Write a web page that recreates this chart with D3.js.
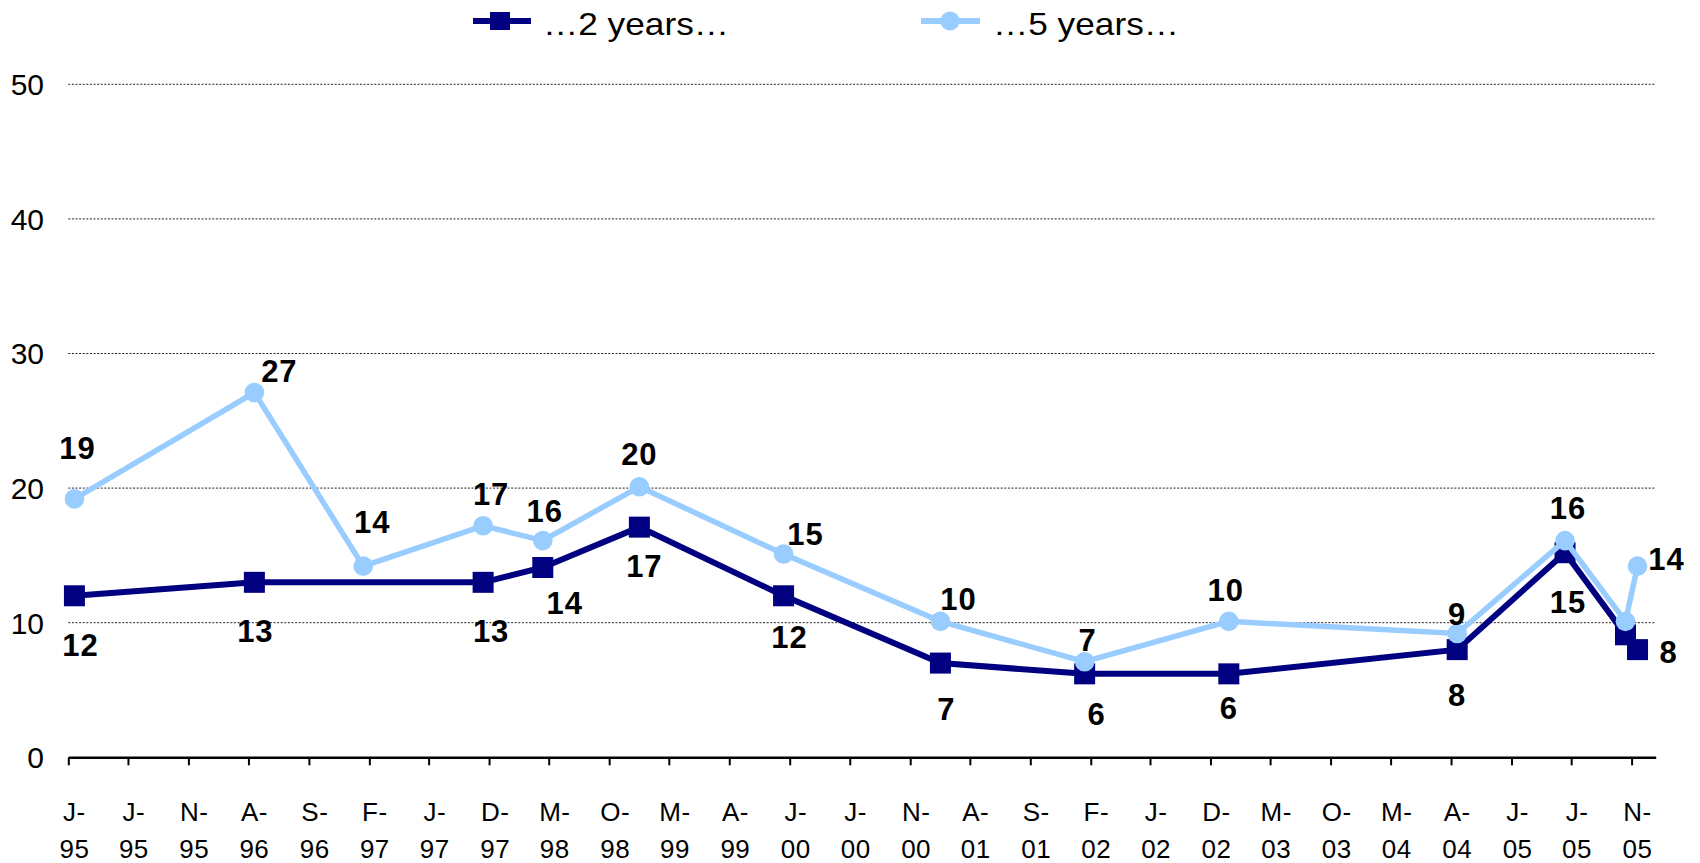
<!DOCTYPE html>
<html>
<head>
<meta charset="utf-8">
<script src="https://cdn.jsdelivr.net/npm/d3@7"></script>
<style>
  html, body { margin: 0; padding: 0; background: #fff; }
  svg { display: block; font-family: "Liberation Sans", Arial, Helvetica, sans-serif; }
</style>
</head>
<body>
<svg id="chart" width="1700" height="863"></svg>
<script>
// ---------------- data ----------------
const seriesNames = ["\u20262 years\u2026", "\u20265 years\u2026"];

const darkDates  = ["1995-01","1996-04","1997-11","1998-04","1998-12","1999-12","2001-01","2002-01","2003-01","2004-08","2005-05","2005-10","2005-11"];
const darkValues = [12.0, 13.0, 13.0, 14.1, 17.1, 12.0, 7.0, 6.2, 6.2, 8.0, 15.2, 9.1, 8.0];

const lightDates  = ["1995-01","1996-04","1997-01","1997-11","1998-04","1998-12","1999-12","2001-01","2002-01","2003-01","2004-08","2005-05","2005-10","2005-11"];
const lightValues = [19.2, 27.1, 14.2, 17.2, 16.1, 20.1, 15.1, 10.1, 7.1, 10.1, 9.2, 16.1, 10.1, 14.2];

const tickDates = ["1995-01","1995-06","1995-11","1996-04","1996-09","1997-02","1997-07","1997-12","1998-05","1998-10","1999-03","1999-08","2000-01","2000-06","2000-11","2001-04","2001-09","2002-02","2002-07","2002-12","2003-05","2003-10","2004-03","2004-08","2005-01","2005-06","2005-11"];
const tickMonths = ["J-","J-","N-","A-","S-","F-","J-","D-","M-","O-","M-","A-","J-","J-","N-","A-","S-","F-","J-","D-","M-","O-","M-","A-","J-","J-","N-"];
const tickYears  = ["95","95","95","96","96","97","97","97","98","98","99","99","00","00","00","01","01","02","02","02","03","03","04","04","05","05","05"];

const yTicks = [0, 10, 20, 30, 40, 50];

// label nudges (layout only, px relative to the point; null = no label)
const darkLabelNudge  = [[6,49],[1,49],[8,49],[22,35],[5,39],[6,41],[6,46],[12,40],[0,34],[0,45],[3,49],null,[31,2]];
const lightLabelNudge = [[3,-51],[25,-22],[9,-44],[8,-32],[2,-30],[0,-33],[22,-20],[18,-23],[3,-22],[-3,-32],[0,-20],[3,-33],null,[29,-7]];

// ---------------- layout ----------------
const DARK = "#000080", LIGHT = "#99CCFF";
const parse = d3.utcParse("%Y-%m");
const svg = d3.select("#chart");

const x = d3.scaleUtc()
  .domain([parse("1995-01"), parse("2006-01")])
  .range([68.3, 1655.7]);
const xMid = d => (x(d) + x(d3.utcMonth.offset(d, 1))) / 2;

const y = d3.scaleLinear().domain([0, 50]).range([757.3, 84.3]);

// gridlines
svg.append("g").selectAll("line")
  .data(yTicks.filter(v => v > 0))
  .join("line")
  .attr("x1", x.range()[0]).attr("x2", x.range()[1])
  .attr("y1", d => y(d)).attr("y2", d => y(d))
  .attr("stroke", "#222").attr("stroke-width", 1)
  .attr("stroke-dasharray", "2,1.6");

// y labels
svg.append("g").selectAll("text")
  .data(yTicks)
  .join("text")
  .attr("x", 44).attr("y", d => y(d))
  .attr("dy", "0.36em")
  .attr("text-anchor", "end")
  .attr("font-size", 30)
  .attr("fill", "#000")
  .text(d => d);

// x axis
const tickParsed = tickDates.map(parse);
const xAxis = d3.axisBottom(x)
  .tickValues(tickParsed)
  .tickSize(8)
  .tickSizeOuter(0)
  .tickFormat("");
const gx = svg.append("g")
  .attr("transform", `translate(0,${y(0)})`)
  .call(xAxis);
gx.select(".domain").attr("stroke", "#000").attr("stroke-width", 2.5);
gx.selectAll(".tick line").attr("stroke", "#000").attr("stroke-width", 2);

// x labels (centered on the month)
const xl = svg.append("g").selectAll("text")
  .data(tickParsed)
  .join("text")
  .attr("text-anchor", "middle")
  .attr("font-size", 26)
  .attr("fill", "#000")
  .attr("letter-spacing", 0.5);
xl.append("tspan").attr("x", d => xMid(d)).attr("y", 821).text((d, i) => tickMonths[i]);
xl.append("tspan").attr("x", d => xMid(d)).attr("y", 858).text((d, i) => tickYears[i]);

// series
const dark = darkDates.map((d, i) => ({ date: parse(d), value: darkValues[i], nudge: darkLabelNudge[i] }));
const light = lightDates.map((d, i) => ({ date: parse(d), value: lightValues[i], nudge: lightLabelNudge[i] }));

const line = d3.line().x(d => xMid(d.date)).y(d => y(d.value));
const SQ = 21, R = 9.8;

// dark series
svg.append("path").datum(dark)
  .attr("d", line).attr("fill", "none")
  .attr("stroke", DARK).attr("stroke-width", 6).attr("stroke-linejoin", "miter");
svg.append("g").selectAll("rect")
  .data(dark).join("rect")
  .attr("x", d => xMid(d.date) - SQ / 2).attr("y", d => y(d.value) - SQ / 2)
  .attr("width", SQ).attr("height", SQ).attr("fill", DARK);

// light series
svg.append("path").datum(light)
  .attr("d", line).attr("fill", "none")
  .attr("stroke", LIGHT).attr("stroke-width", 5.5).attr("stroke-linejoin", "miter");
svg.append("g").selectAll("circle")
  .data(light).join("circle")
  .attr("cx", d => xMid(d.date)).attr("cy", d => y(d.value))
  .attr("r", R).attr("fill", LIGHT);

// data labels
const fmt = d3.format(".0f");
function labels(data) {
  svg.append("g").selectAll("text")
    .data(data.filter(d => d.nudge))
    .join("text")
    .attr("x", d => xMid(d.date) + d.nudge[0])
    .attr("y", d => y(d.value) + d.nudge[1])
    .attr("dy", "0.36em")
    .attr("text-anchor", "middle")
    .attr("font-size", 31)
    .attr("font-weight", "bold")
    .attr("fill", "#000")
    .attr("letter-spacing", 1)
    .text(d => fmt(d.value));
}
labels(dark);
labels(light);

// legend
const legend = svg.append("g");
const legItems = [
  { name: seriesNames[0], color: DARK, x1: 473, x2: 531, mx: 500, tx: 543, shape: "rect" },
  { name: seriesNames[1], color: LIGHT, x1: 921, x2: 980, mx: 950, tx: 993, shape: "circle" }
];
legItems.forEach(it => {
  legend.append("line")
    .attr("x1", it.x1).attr("x2", it.x2).attr("y1", 21).attr("y2", 21)
    .attr("stroke", it.color).attr("stroke-width", 6);
  if (it.shape === "rect") {
    legend.append("rect").attr("x", it.mx - 10).attr("y", 12).attr("width", 20).attr("height", 18).attr("fill", it.color);
  } else {
    legend.append("circle").attr("cx", it.mx).attr("cy", 21).attr("r", 9.6).attr("fill", it.color);
  }
  legend.append("text")
    .attr("x", it.tx).attr("y", 35)
    .attr("font-size", 32)
    .attr("fill", "#000")
    .attr("textLength", 186)
    .attr("lengthAdjust", "spacingAndGlyphs")
    .text(it.name);
});
</script>
</body>
</html>
